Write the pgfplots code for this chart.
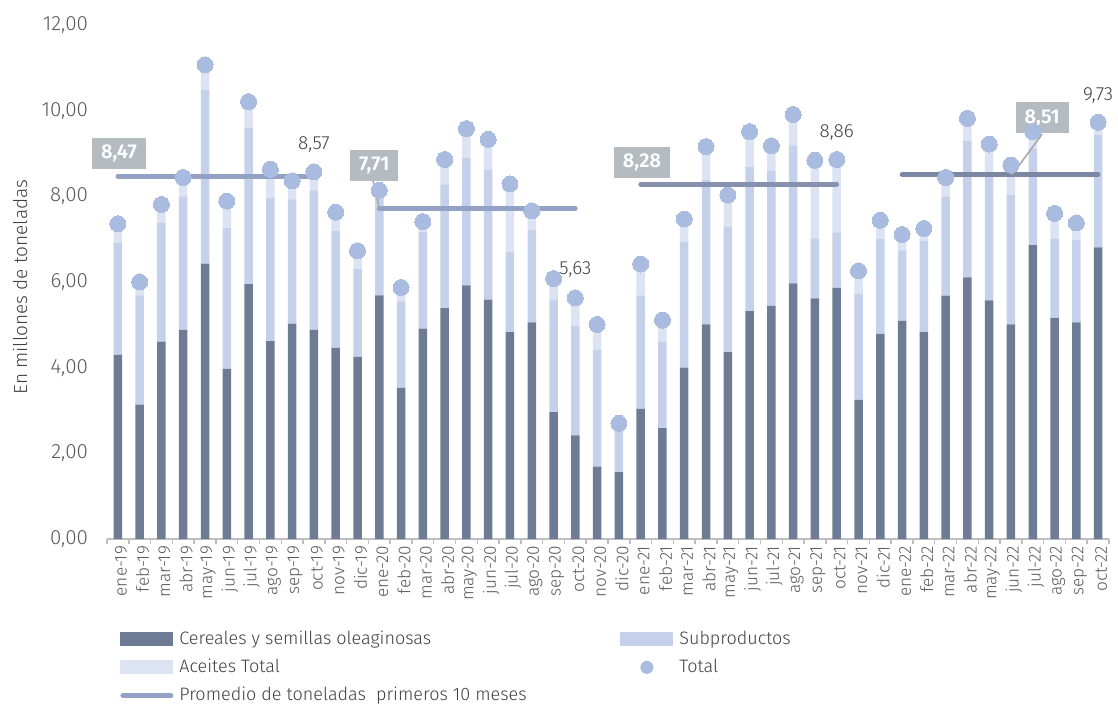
\documentclass[border=0pt]{standalone}
\usepackage{fontspec}
\setmainfont{Fira Sans Light}[BoldFont={Fira Sans SemiBold}]
\usepackage{pgfplots}
\usepackage{pgfplotstable}
\pgfplotsset{compat=1.18}
\definecolor{cdark}{HTML}{6E7B94}
\definecolor{cmid}{HTML}{C5D0EA}
\definecolor{clight}{HTML}{DCE3F3}
\definecolor{cdot}{HTML}{AABBE0}
\definecolor{cavgA}{HTML}{93A2C4}
\definecolor{cavgB}{HTML}{8591AE}
\definecolor{cavgC}{HTML}{7B87A3}
\definecolor{cbox}{HTML}{B4BCC1}
\definecolor{ctick}{HTML}{595959}
\definecolor{ctext}{HTML}{404040}
\definecolor{caxis}{HTML}{BFBFBF}
\definecolor{clead}{HTML}{A6A6A6}

\pgfplotstableread{
idx cer sub ace tot
0 4.30 2.62 0.44 7.36
1 3.14 2.55 0.31 6.00
2 4.61 2.77 0.43 7.81
3 4.88 3.12 0.44 8.44
4 6.43 4.05 0.59 11.07
5 3.97 3.29 0.63 7.89
6 5.95 3.65 0.61 10.21
7 4.62 3.35 0.66 8.63
8 5.03 2.90 0.43 8.36
9 4.88 3.26 0.43 8.57
10 4.46 2.73 0.44 7.63
11 4.25 2.05 0.43 6.73
12 5.69 2.31 0.14 8.14
13 3.53 2.02 0.32 5.87
14 4.91 2.26 0.24 7.41
15 5.39 2.89 0.58 8.86
16 5.92 2.97 0.69 9.58
17 5.59 3.04 0.70 9.33
18 4.83 1.87 1.59 8.29
19 5.06 2.15 0.45 7.66
20 2.96 2.62 0.50 6.08
21 2.42 2.55 0.66 5.63
22 1.69 2.72 0.60 5.01
23 1.56 1.04 0.10 2.70
24 3.04 2.65 0.73 6.42
25 2.59 2.01 0.51 5.11
26 4.00 2.94 0.53 7.47
27 5.01 3.37 0.78 9.16
28 4.36 2.93 0.74 8.03
29 5.32 3.37 0.82 9.51
30 5.44 3.16 0.58 9.18
31 5.97 3.22 0.72 9.91
32 5.62 1.40 1.82 8.84
33 5.86 1.30 1.70 8.86
34 3.25 2.48 0.53 6.26
35 4.79 2.21 0.44 7.44
36 5.09 1.65 0.37 7.11
37 4.83 2.13 0.29 7.25
38 5.68 2.31 0.45 8.44
39 6.11 3.18 0.53 9.82
40 5.57 2.96 0.69 9.22
41 5.01 3.02 0.70 8.73
42 6.86 2.26 0.39 9.51
43 5.16 1.84 0.60 7.60
44 5.06 1.92 0.40 7.38
45 6.81 2.62 0.30 9.73
}\data

\begin{document}
\begin{tikzpicture}
\useasboundingbox (-53.5pt,-83.5pt) rectangle (505.5pt,269.5pt);
\begin{axis}[
  at={(0,0)}, anchor=south west,
  scale only axis, width=501pt, height=257pt,
  xmin=-0.5, xmax=45.5, ymin=0, ymax=12,
  ybar stacked, bar width=4.25pt,
  axis x line*=bottom, axis y line*=left,
  x axis line style={draw=caxis, line width=0.75pt},
  y axis line style={draw=none},
  xtick={0,...,45},
  xticklabels={ene-19,feb-19,mar-19,abr-19,may-19,jun-19,jul-19,ago-19,sep-19,oct-19,nov-19,dic-19,
    ene-20,feb-20,mar-20,abr-20,may-20,jun-20,jul-20,ago-20,sep-20,oct-20,nov-20,dic-20,
    ene-21,feb-21,mar-21,abr-21,may-21,jun-21,jul-21,ago-21,sep-21,oct-21,nov-21,dic-21,
    ene-22,feb-22,mar-22,abr-22,may-22,jun-22,jul-22,ago-22,sep-22,oct-22},
  minor xtick={-0.5,0.5,...,45.5},
  major tick length=0pt, minor tick length=2.5pt, tick align=outside,
  major x tick style={draw=none},
  minor x tick style={draw=caxis, line width=0.75pt},
  ytick={0,2,...,12},
  y tick style={draw=none},
  xticklabel style={rotate=90, anchor=east, yshift=-1.5pt, font=\fontsize{8.6}{9}\selectfont, text=ctick},
  yticklabel style={font=\fontsize{10.3}{12}\selectfont, text=ctick, xshift=-6pt,
    /pgf/number format/.cd, fixed, fixed zerofill, precision=2, use comma, assume math mode=true},
  ylabel={En millones de toneladas},
  every axis y label/.style={at={(axis description cs:-0.0868,0.49)}, rotate=90, anchor=center,
    font=\fontsize{9.5}{11}\selectfont, text=ctext},
  clip=false,
]
\addplot[fill=cdark, draw=none] table[x=idx,y=cer]{\data};
\addplot[fill=cmid, draw=none] table[x=idx,y=sub]{\data};
\addplot[fill=clight, draw=none] table[x=idx,y=ace]{\data};
\end{axis}

\begin{axis}[
  at={(0,0)}, anchor=south west,
  scale only axis, width=501pt, height=257pt,
  xmin=-0.5, xmax=45.5, ymin=0, ymax=12,
  hide axis, clip=false,
  legend columns=2, legend cell align=left,
  legend style={at={(axis description cs:0,0)}, anchor=north west, xshift=6.5pt, yshift=-45.5pt,
    draw=none, fill=none, inner sep=0pt, column sep=3pt, row sep=5pt,
    font=\fontsize{9}{11}\selectfont, text=ctext,
    nodes={inner sep=0pt, text height=7pt, text depth=2pt}},
]
\addlegendimage{legend image code/.code={\path[draw=none] (0pt,-3.5pt) rectangle (26.5pt,3.5pt);\fill[cdark, draw=none] (0pt,-3.5pt) rectangle (26.5pt,3.5pt);}}
\addlegendentry{\makebox[217.5pt][l]{Cereales y semillas oleaginosas}}
\addlegendimage{legend image code/.code={\path[draw=none] (0pt,-3.5pt) rectangle (26.5pt,3.5pt);\fill[cmid, draw=none] (0pt,-3.5pt) rectangle (26.5pt,3.5pt);}}
\addlegendentry{Subproductos}
\addlegendimage{legend image code/.code={\path[draw=none] (0pt,-3.5pt) rectangle (26.5pt,3.5pt);\fill[clight, draw=none] (0pt,-3.5pt) rectangle (26.5pt,3.5pt);}}
\addlegendentry{Aceites Total}
\addlegendimage{legend image code/.code={\path[draw=none] (0pt,-3.5pt) rectangle (26.5pt,3.5pt);\fill[cdot, draw=none] (13.25pt,0pt) circle (3.25pt);}}
\addlegendentry{Total}
\addlegendimage{legend image code/.code={\path[draw=none] (0pt,-3.5pt) rectangle (26.5pt,3.5pt);\draw[cavgA, line width=2.5pt, line cap=round] (1.25pt,0pt) -- (25.25pt,0pt);}}
\addlegendentry{Promedio de toneladas~~primeros 10 meses}

\addplot[cavgA, line width=2.35pt, line cap=round, forget plot] coordinates {(0,8.47) (9,8.47)};
\addplot[cavgA, line width=2.35pt, line cap=round, forget plot] coordinates {(12,7.71) (21,7.71)};
\addplot[cavgB, line width=2.35pt, line cap=round, forget plot] coordinates {(24,8.28) (33,8.28)};
\addplot[cavgC, line width=2.35pt, line cap=round, forget plot] coordinates {(36,8.51) (45,8.51)};

\addplot[color=cdot, only marks, mark=*, mark size=4pt, mark options={fill=cdot, draw=cdot, line width=0pt}, forget plot] table[x=idx,y=tot]{\data};

\node[text=ctext, font=\fontsize{9.5}{11}\selectfont] at (axis cs:9,9.22) {8,57};
\node[text=ctext, font=\fontsize{9.5}{11}\selectfont] at (axis cs:21,6.30) {5,63};
\node[text=ctext, font=\fontsize{9.5}{11}\selectfont] at (axis cs:33,9.50) {8,86};
\node[text=ctext, font=\fontsize{9.5}{11}\selectfont] at (axis cs:45,10.36) {9,73};

\draw[clead, line width=0.75pt] (axis cs:11.7,8.40) -- (axis cs:12,7.71);
\draw[clead, line width=0.75pt] (axis cs:42.43,9.45) -- (axis cs:41.06,8.51);

\node[fill=cbox, text=white, font=\bfseries\fontsize{10}{12}\selectfont, inner xsep=4.5pt, inner ysep=0pt, minimum height=15.5pt] at (axis cs:0.05,9.0) {8,47};
\node[fill=cbox, text=white, font=\bfseries\fontsize{10}{12}\selectfont, inner xsep=4.5pt, inner ysep=0pt, minimum height=15.5pt] at (axis cs:11.77,8.73) {7,71};
\node[fill=cbox, text=white, font=\bfseries\fontsize{10}{12}\selectfont, inner xsep=4.5pt, inner ysep=0pt, minimum height=15.5pt] at (axis cs:24.06,8.80) {8,28};
\node[fill=cbox, text=white, font=\bfseries\fontsize{10}{12}\selectfont, inner xsep=4.5pt, inner ysep=0pt, minimum height=15.5pt] at (axis cs:42.43,9.83) {8,51};
\end{axis}
\end{tikzpicture}
\end{document}
